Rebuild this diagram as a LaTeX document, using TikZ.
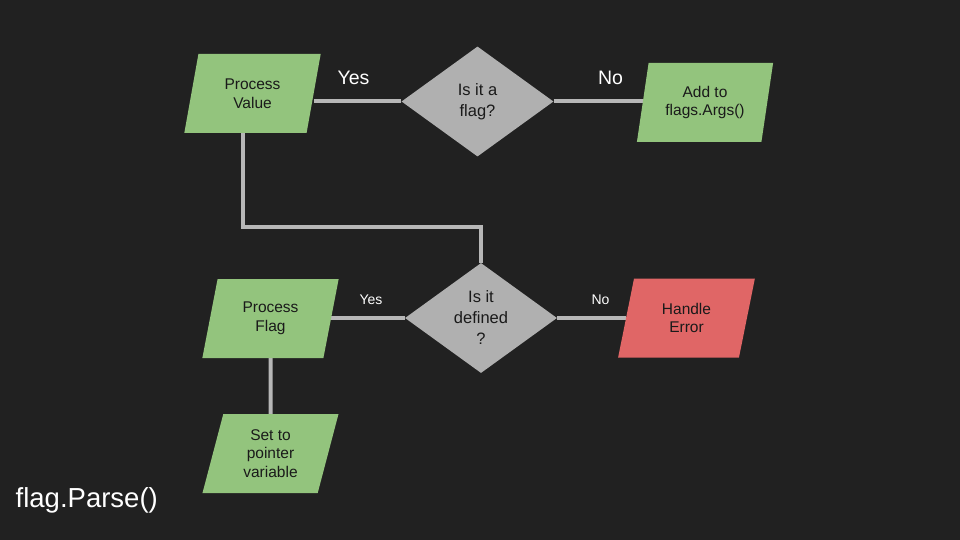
\documentclass[tikz,border=0pt]{standalone}
\usepackage{fontspec}
\setmainfont{Liberation Sans}
\usetikzlibrary{shapes.geometric,backgrounds}
\definecolor{bgc}{HTML}{212121}
\definecolor{boxgreen}{HTML}{93C47D}
\definecolor{boxred}{HTML}{E06666}
\definecolor{dgray}{HTML}{B0B0B0}
\definecolor{lgray}{HTML}{B7B7B7}
\definecolor{txt}{HTML}{1A1A1A}
\tikzset{
  para/.style={trapezium, trapezium left angle=76, trapezium right angle=104,
    trapezium stretches=true, minimum width=137pt, minimum height=79pt,
    inner sep=0pt, fill=boxgreen, text=txt, align=center,
    font=\fontsize{15.5}{18.5}\selectfont},
  errbox/.style={para, fill=boxred},
  decision/.style={diamond, fill=dgray, minimum width=152pt, minimum height=110pt,
    inner sep=0pt, text=txt, align=center, font=\fontsize{16.5}{21}\selectfont},
  conn/.style={draw=lgray, line width=4pt},
  biglabel/.style={text=white, font=\fontsize{19.5}{22}\selectfont},
  smalllabel/.style={text=white, font=\fontsize{14}{16}\selectfont},
}
\begin{document}
\begin{tikzpicture}[x=1pt,y=-1pt]
\begin{pgfonlayer}{background}
\fill[bgc] (0,0) rectangle (960,540);
\end{pgfonlayer}
\useasboundingbox (0,0) rectangle (960,540);

\node[para] (pv) at (252.5,93.5) {Process\\Value};
\node[decision] (dia1) at (477.5,101.5) {Is it a\\flag?};
\node[para] (add) at (705,102.5) {Add to\\flags.Args()};
\node[decision] (dia2) at (481,318) {Is it\\defined\\?};
\node[para] (pf) at (270.5,318.5) {Process\\Flag};
\node[errbox] (err) at (686.5,318) {Handle\\Error};
\node[para] (set) at (270.5,453.5) {Set to\\pointer\\variable};

\node[biglabel] (yes1) at (353.5,78) {Yes};
\node[biglabel] (no1) at (610.5,78) {No};
\node[smalllabel] (yes2) at (371,300) {Yes};
\node[smalllabel] (no2) at (600.5,300) {No};
\node[text=white, font=\fontsize{27.5}{30}\selectfont, anchor=west, inner sep=0pt] (title) at (15.5,500) {flag.Parse()};

\begin{pgfonlayer}{background}
\draw[conn] (dia1.west) -- (dia1.west -| pv.east);
\draw[conn] (dia1.east) -- (dia1.east -| add.west);
\draw[conn] ([xshift=-10pt]pv.south) -- ++(0,94) -| (dia2.north);
\draw[conn] (dia2.west) -- (dia2.west -| pf.east);
\draw[conn] (dia2.east) -- (dia2.east -| err.west);
\draw[conn] (pf.south) -- (set.north);
\end{pgfonlayer}
\end{tikzpicture}
\end{document}
